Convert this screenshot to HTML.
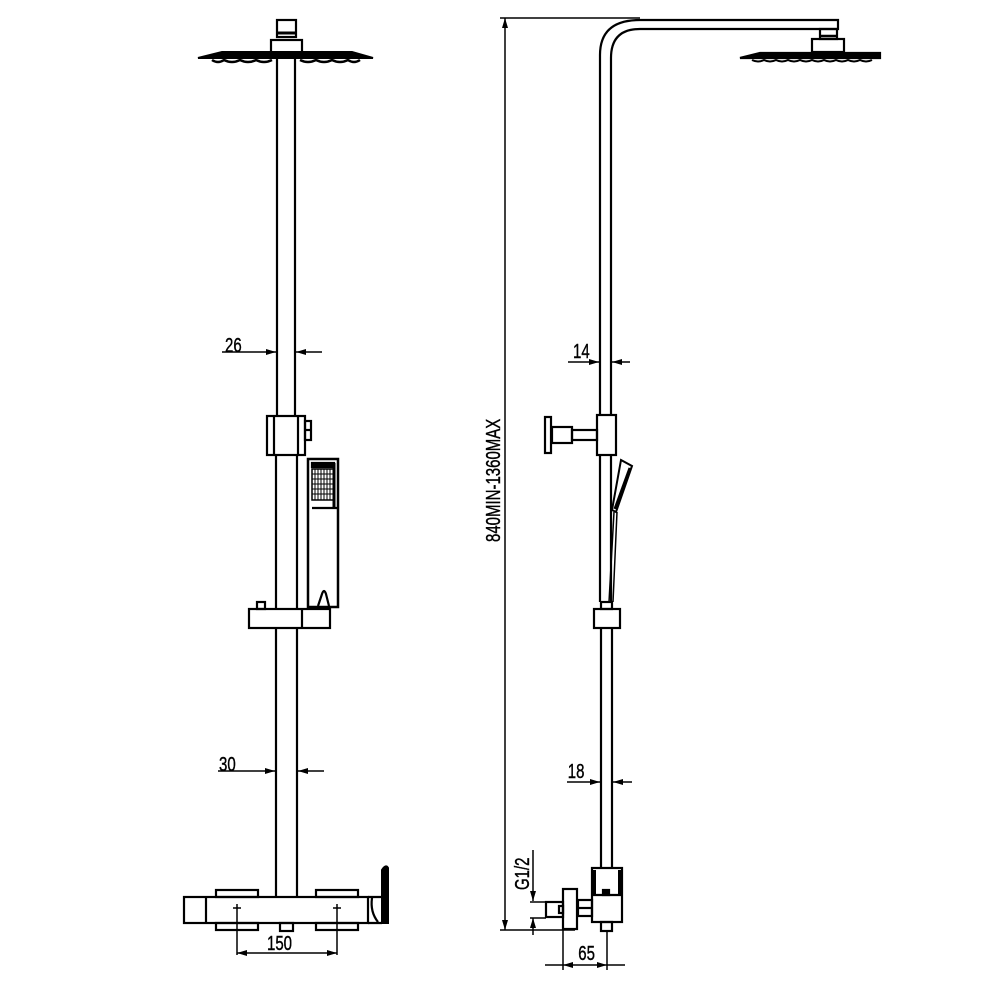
<!DOCTYPE html>
<html><head><meta charset="utf-8"><style>html,body{margin:0;padding:0;background:#fff}svg{display:block}text{font-family:"Liberation Sans",sans-serif;fill:#000;stroke:#000;stroke-width:0.4}</style></head><body>
<svg width="1000" height="1000" viewBox="0 0 1000 1000" xmlns="http://www.w3.org/2000/svg">
<defs>
<marker id="a" markerWidth="10" markerHeight="6" refX="10" refY="3" orient="auto-start-reverse" markerUnits="userSpaceOnUse"><path d="M0,0 L10,3 L0,6 Z" fill="#000"/></marker>
</defs>
<g fill="none" stroke="#000" stroke-width="2.2">
<rect x="277" y="20" width="19" height="17"/>
<line x1="277" y1="33" x2="296" y2="33" stroke-width="3"/>
<rect x="271" y="40" width="31" height="14"/>
<path d="M198,58 L222,52 L352,52 L373,58 Z" fill="#000" stroke-width="2"/>
<path d="M212,60 Q218,64 224,60 Q232,64 240,60 Q248,64 256,60 Q264,64 272,60 M300,60 Q308,64 316,60 Q324,64 332,60 Q340,64 348,60 Q354,64 360,60" stroke-width="2.5"/>
<line x1="277" y1="58" x2="277" y2="416"/>
<line x1="295" y1="58" x2="295" y2="416"/>
<rect x="267" y="416" width="38" height="39"/>
<line x1="274" y1="416" x2="274" y2="455"/>
<line x1="298" y1="416" x2="298" y2="455"/>
<rect x="305" y="421" width="6" height="19"/>
<line x1="305" y1="430" x2="311" y2="430"/>
<line x1="276" y1="455" x2="276" y2="608"/>
<line x1="297" y1="455" x2="297" y2="608"/>
<rect x="308" y="459" width="30" height="148" stroke-width="2.5"/>
<rect x="312" y="463" width="22" height="4" fill="#000"/>
<line x1="334" y1="463" x2="334" y2="508" stroke-width="3"/>
<rect x="312" y="469" width="22" height="31" stroke-width="1.5"/>
<path d="M315,469V500M318,469V500M321,469V500M324,469V500M327,469V500M330,469V500M312,474H334M312,479H334M312,484H334M312,489H334M312,494H334" stroke-width="1"/>
<line x1="312" y1="508" x2="338" y2="508"/>
<path d="M318,606 L322,594 Q324,588 326,594 L329,606"/>
<rect x="257" y="602" width="8" height="7"/>
<rect x="249" y="609" width="81" height="19"/>
<line x1="302" y1="609" x2="302" y2="628"/>
<line x1="276" y1="628" x2="276" y2="897"/>
<line x1="297" y1="628" x2="297" y2="897"/>
<rect x="184" y="897" width="184" height="26"/>
<line x1="206" y1="897" x2="206" y2="923"/>
<rect x="216" y="890" width="42" height="7"/>
<rect x="316" y="890" width="42" height="7"/>
<rect x="216" y="923" width="42" height="7"/>
<rect x="316" y="923" width="42" height="7"/>
<rect x="280" y="923" width="13" height="8"/>
<path d="M368,897 L382,897 M368,923 L382,923 M372,898 Q370,912 378,922"/>
<path d="M382,923 L382,870 Q386,864 388,868 L388,923 Z" stroke-width="2" fill="#000"/>
<path d="M233,908H241M237,904V955M333,908H341M337,904V955" stroke-width="1.5"/>
<line x1="237" y1="953" x2="337" y2="953" stroke-width="1.5" marker-start="url(#a)" marker-end="url(#a)"/>
<line x1="222" y1="352" x2="276" y2="352" stroke-width="1.5" marker-end="url(#a)"/>
<line x1="322" y1="352" x2="296" y2="352" stroke-width="1.5" marker-end="url(#a)"/>
<line x1="218" y1="771" x2="275" y2="771" stroke-width="1.5" marker-end="url(#a)"/>
<line x1="324" y1="771" x2="298" y2="771" stroke-width="1.5" marker-end="url(#a)"/>

<line x1="505" y1="18" x2="505" y2="930" stroke-width="1.5" marker-start="url(#a)" marker-end="url(#a)"/>
<line x1="500" y1="18" x2="640" y2="18" stroke-width="1.5"/>
<line x1="500" y1="930" x2="575" y2="930" stroke-width="1.5"/>
<path d="M600,415 L600,55 Q600,20 640,20 L838,20 L838,29 L640,29 Q611,29 611,58 L611,415"/>
<rect x="820" y="29" width="17" height="10"/>
<line x1="820" y1="36" x2="837" y2="36" stroke-width="2.5"/>
<rect x="812" y="39" width="32" height="13"/>
<path d="M740,58 L760,53 L880,53 L880,58 Z" fill="#000"/>
<path d="M752,60 Q758,63 764,60 Q770,63 776,60 Q782,63 788,60 Q794,63 800,60 Q806,63 812,60 Q818,63 824,60 Q830,63 836,60 Q842,63 848,60 Q854,63 860,60 Q866,63 872,60" stroke-width="2"/>
<line x1="568" y1="362" x2="599" y2="362" stroke-width="1.5" marker-end="url(#a)"/>
<line x1="630" y1="362" x2="612" y2="362" stroke-width="1.5" marker-end="url(#a)"/>
<rect x="597" y="415" width="19" height="40"/>
<rect x="572" y="430" width="25" height="10"/>
<rect x="552" y="427" width="20" height="16"/>
<rect x="545" y="417" width="6" height="36"/>
<line x1="600" y1="455" x2="600" y2="602"/>
<line x1="611" y1="455" x2="611" y2="602"/>
<path d="M621,460 L632,466 L616,512 L612,510 Z" stroke-width="2"/>
<path d="M630,468 L615,509" stroke-width="3"/>
<path d="M614,512 L609,602 M617,512 L613,602" stroke-width="1.5"/>
<rect x="601" y="602" width="11" height="7"/>
<rect x="594" y="609" width="26" height="19"/>
<line x1="601" y1="628" x2="601" y2="868"/>
<line x1="612" y1="628" x2="612" y2="868"/>
<line x1="567" y1="782" x2="600" y2="782" stroke-width="1.5" marker-end="url(#a)"/>
<line x1="632" y1="782" x2="613" y2="782" stroke-width="1.5" marker-end="url(#a)"/>
<rect x="592" y="868" width="30" height="54"/>
<path d="M594,870V895M620,870V895" stroke-width="4"/>
<line x1="592" y1="895" x2="622" y2="895"/>
<rect x="603" y="890" width="6" height="5" fill="#000"/>
<rect x="601" y="922" width="11" height="9"/>
<rect x="578" y="900" width="14" height="16"/>
<line x1="578" y1="908" x2="592" y2="908"/>
<rect x="563" y="889" width="14" height="40"/>
<rect x="546" y="902" width="17" height="15"/>
<rect x="559" y="906" width="4" height="7"/>
<line x1="533" y1="850" x2="533" y2="901" stroke-width="1.5" marker-end="url(#a)"/>
<line x1="533" y1="935" x2="533" y2="918" stroke-width="1.5" marker-end="url(#a)"/>
<path d="M530,902H546M530,918H546" stroke-width="1.5"/>
<path d="M563,929V970M607,931V970" stroke-width="1.5"/>
<line x1="545" y1="965" x2="563" y2="965" stroke-width="1.5"/>
<line x1="563" y1="965" x2="607" y2="965" stroke-width="1.5" marker-start="url(#a)" marker-end="url(#a)"/>
<line x1="607" y1="965" x2="625" y2="965" stroke-width="1.5"/>
</g>
<g font-size="20" transform="scale(0.75,1)">
<text x="300" y="352">26</text>
<text x="292" y="771">30</text>
<text x="356" y="950">150</text>
<text x="764" y="358">14</text>
<text x="757" y="778">18</text>
<text x="771" y="960">65</text>
</g>
<text transform="translate(500,542) rotate(-90) scale(0.75,1)" font-size="20">840MIN-1360MAX</text>
<text transform="translate(529,890) rotate(-90) scale(0.75,1)" font-size="20">G1/2</text>
</svg>
</body></html>
